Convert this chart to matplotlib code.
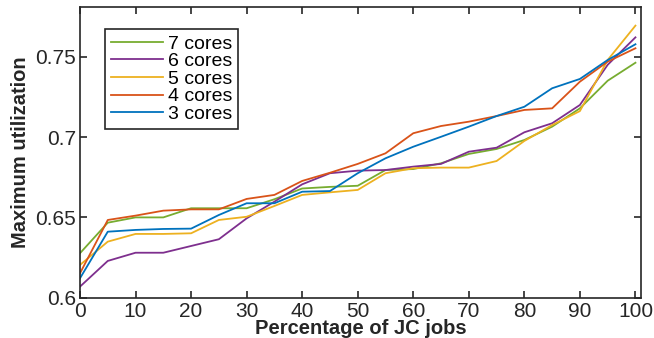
import matplotlib
matplotlib.use("Agg")
import matplotlib.pyplot as plt

plt.rcParams['font.family'] = ['Liberation Sans', 'DejaVu Sans']

x = [0, 5, 10, 15, 20, 25, 30, 35, 40, 45, 50, 55, 60, 65, 70, 75, 80, 85, 90, 95, 100]

cores7 = [0.6277, 0.6467, 0.6500, 0.6500, 0.6557, 0.6557, 0.6557, 0.6613, 0.6680, 0.6690,
          0.6697, 0.6795, 0.6801, 0.6837, 0.6895, 0.6926, 0.6982, 0.7065, 0.7179, 0.7351, 0.7463]
cores6 = [0.6069, 0.6229, 0.6280, 0.6280, 0.6322, 0.6364, 0.6494, 0.6598, 0.6706, 0.6775,
          0.6791, 0.6795, 0.6816, 0.6833, 0.6909, 0.6934, 0.7030, 0.7086, 0.7200, 0.7450, 0.7621]
cores5 = [0.6204, 0.6349, 0.6397, 0.6397, 0.6401, 0.6484, 0.6504, 0.6571, 0.6640, 0.6656,
          0.6671, 0.6775, 0.6806, 0.6810, 0.6810, 0.6851, 0.6976, 0.7075, 0.7162, 0.7480, 0.7694]
cores4 = [0.6152, 0.6484, 0.6511, 0.6542, 0.6550, 0.6550, 0.6615, 0.6640, 0.6727, 0.6778,
          0.6833, 0.6899, 0.7024, 0.7069, 0.7096, 0.7131, 0.7169, 0.7179, 0.7345, 0.7470, 0.7553]
cores3 = [0.6121, 0.6411, 0.6422, 0.6428, 0.6430, 0.6515, 0.6588, 0.6588, 0.6660, 0.6664,
          0.6775, 0.6868, 0.6940, 0.7002, 0.7065, 0.7131, 0.7189, 0.7304, 0.7362, 0.7480, 0.7578]

labels = ['7 cores', '6 cores', '5 cores', '4 cores', '3 cores']
colors = ['#77AC30', '#7E2F8E', '#EDB120', '#D95319', '#0072BD']
series = [cores7, cores6, cores5, cores4, cores3]

xticks = [0, 10, 20, 30, 40, 50, 60, 70, 80, 90, 100]
yticks = [0.6, 0.65, 0.7, 0.75]
yticklabels = ['0.6', '0.65', '0.7', '0.75']

fig = plt.figure(figsize=(6.54, 3.38), dpi=100)
ax = fig.add_axes([80/654, 1 - 297.7/338, 561/654, 290.7/338])

for s, c, l in zip(series, colors, labels):
    ax.plot(x, s, color=c, lw=1.3, label=l)

ax.set_xlim(0, 101)
ax.set_ylim(0.6, 0.781)
ax.set_xticks(xticks)
ax.set_xticklabels([str(t) for t in xticks])
ax.set_yticks(yticks)
ax.set_yticklabels(yticklabels)
axcol = '#262626'
ax.tick_params(direction='in', length=5, width=1.2, top=True, right=True,
               labelsize=15, colors=axcol, pad=3)
for sp in ax.spines.values():
    sp.set_linewidth(1.2)
    sp.set_color(axcol)

ax.set_xlabel('Percentage of JC jobs', fontsize=14.5, fontweight='bold', color=axcol, labelpad=-1)
ax.set_ylabel('Maximum utilization', fontsize=14.5, fontweight='bold', color=axcol, labelpad=4)

leg = ax.legend(loc='upper left', bbox_to_anchor=(0.0446, 0.924), borderaxespad=0,
                fontsize=14, handlelength=2.7, handletextpad=0.25, labelspacing=0.0,
                fancybox=False, framealpha=1, edgecolor='#262626', borderpad=0.3)
leg.get_frame().set_linewidth(1.2)

fig.savefig('out.png', dpi=100)
